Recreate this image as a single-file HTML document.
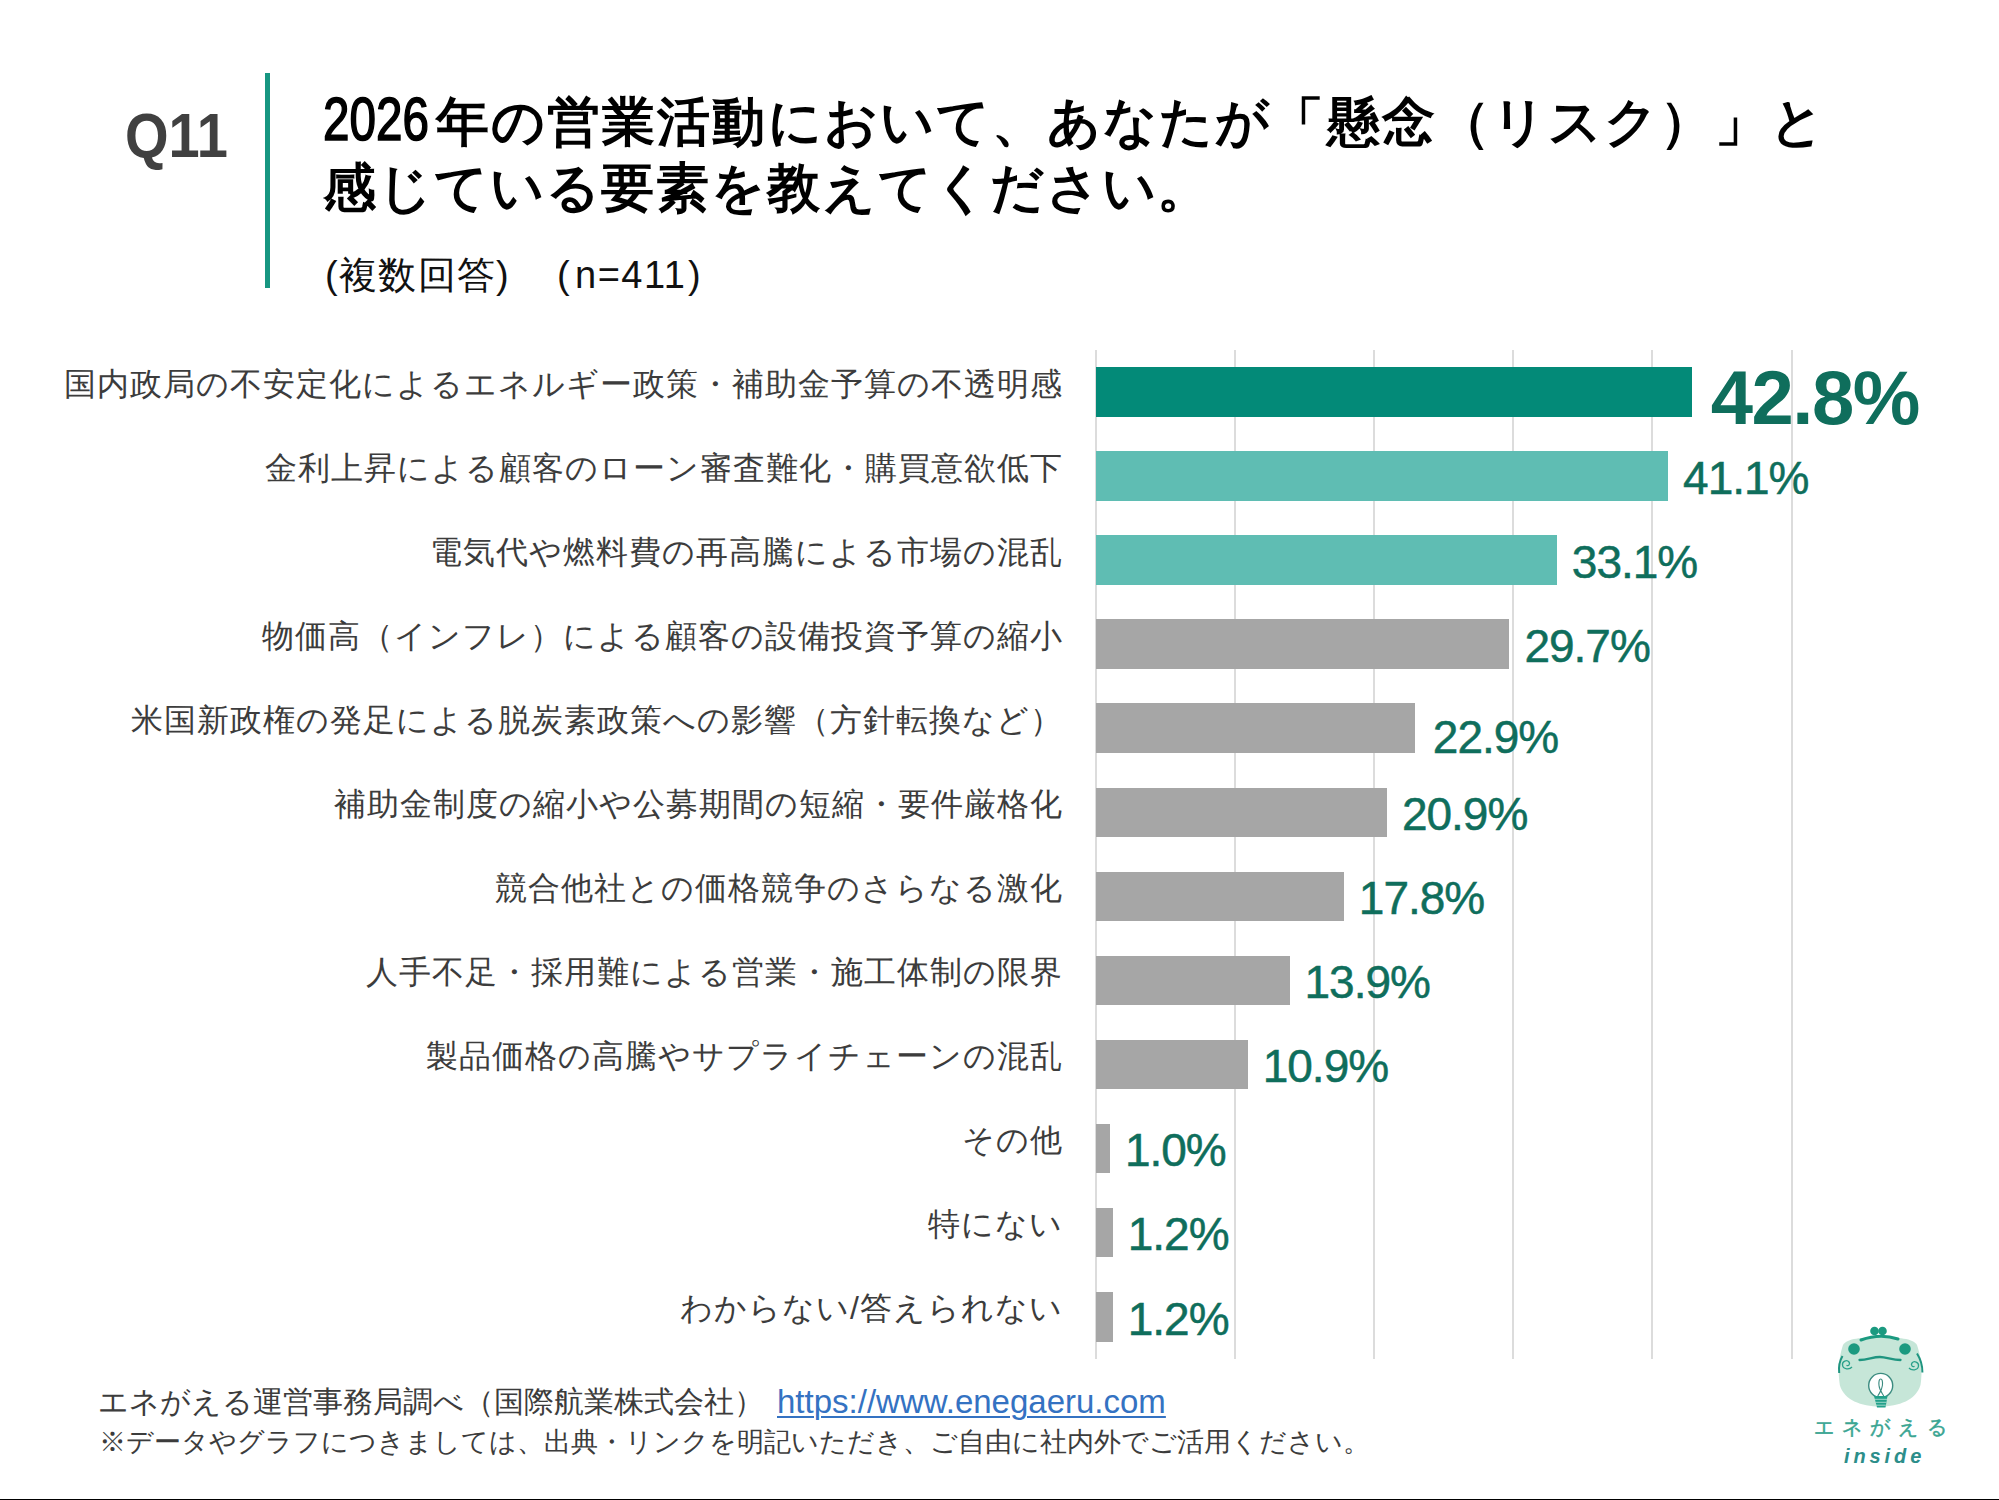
<!DOCTYPE html>
<html><head><meta charset="utf-8"><style>
html,body{margin:0;padding:0;background:#fff;}
body{width:1999px;height:1500px;position:relative;overflow:hidden;font-family:"Liberation Sans",sans-serif;}
.a{position:absolute;white-space:nowrap;line-height:1;}
.g{position:absolute;top:350px;height:1009px;width:2px;background:#dcdcdc;}
.bar{position:absolute;left:1096px;height:49.5px;}
.lab{position:absolute;right:936px;font-size:32px;letter-spacing:1.0px;line-height:50px;color:#3c3c3c;white-space:nowrap;}
.pct{position:absolute;font-size:46px;line-height:56px;color:#0f6e5c;white-space:nowrap;letter-spacing:-1px;-webkit-text-stroke:0.5px #0f6e5c;}
.pct.big{font-size:76px;line-height:76px;font-weight:bold;letter-spacing:-1.5px;-webkit-text-stroke:0;}
#q{left:125px;top:104px;font-size:63px;font-weight:bold;color:#404040;transform:scaleX(0.89);transform-origin:0 0;}
#vline{position:absolute;left:265px;top:73px;width:5px;height:215px;background:#179681;}
.t{font-size:53px;font-weight:bold;color:#000;letter-spacing:2.5px;}
#t1{left:323px;top:89px;letter-spacing:2.1px}
#t2{left:323px;top:161px;letter-spacing:1.9px}
.dg{display:inline-block;font-size:61px;letter-spacing:0;font-weight:normal;-webkit-text-stroke:1.6px #000;transform:scaleX(0.78);transform-origin:0 0;width:113px;vertical-align:baseline;}
.sb{font-size:38px;color:#111;}
#f1{left:98px;top:1387px;font-size:30px;color:#3c3c3c;}
#f2{left:99px;top:1428px;font-size:27.3px;color:#3c3c3c;}
#link{position:absolute;left:777px;top:1385px;color:#3472c2;text-decoration:underline;text-decoration-thickness:1.6px;text-underline-offset:3px;font-size:33px;}
#bline{position:absolute;left:0;top:1499px;width:1999px;height:1px;background:#000;}
</style></head><body>
<div id="q" class="a">Q11</div>
<div id="vline"></div>
<div id="t1" class="a t"><span class="dg">2026</span>年の営業活動において、あなたが「懸念（リスク）」と</div>
<div id="t2" class="a t">感じている要素を教えてください。</div>
<div class="a sb" style="left:325px;top:256px">(</div>
<div class="a sb" style="left:339px;top:256px;letter-spacing:1.3px">複数回答</div>
<div class="a sb" style="left:496px;top:256px">)</div>
<div class="a sb" style="left:557px;top:256px">(</div>
<div class="a sb" style="left:575px;top:256px;letter-spacing:1.5px">n=411</div>
<div class="a sb" style="left:688px;top:256px">)</div>
<div class="g" style="left:1094.5px"></div>
<div class="g" style="left:1233.7px"></div>
<div class="g" style="left:1372.9px"></div>
<div class="g" style="left:1512.1px"></div>
<div class="g" style="left:1651.3px"></div>
<div class="g" style="left:1790.5px"></div>
<div class="lab" style="top:359.0px">国内政局の不安定化によるエネルギー政策・補助金予算の不透明感</div>
<div class="bar" style="top:367.0px;width:595.8px;background:#038a78"></div>
<div class="pct big" style="top:360.0px;left:1710.8px">42.8%</div>
<div class="lab" style="top:443.0px">金利上昇による顧客のローン審査難化・購買意欲低下</div>
<div class="bar" style="top:451.1px;width:572.1px;background:#5fbdb3"></div>
<div class="pct" style="top:449.6px;left:1683.1px">41.1%</div>
<div class="lab" style="top:526.9px">電気代や燃料費の再高騰による市場の混乱</div>
<div class="bar" style="top:535.2px;width:460.8px;background:#5fbdb3"></div>
<div class="pct" style="top:533.7px;left:1571.8px">33.1%</div>
<div class="lab" style="top:610.9px">物価高（インフレ）による顧客の設備投資予算の縮小</div>
<div class="bar" style="top:619.3px;width:413.4px;background:#a6a6a6"></div>
<div class="pct" style="top:617.8px;left:1524.4px">29.7%</div>
<div class="lab" style="top:694.8px">米国新政権の発足による脱炭素政策への影響（方針転換など）</div>
<div class="bar" style="top:703.4px;width:318.8px;background:#a6a6a6"></div>
<div class="pct" style="top:708.9px;left:1432.8px">22.9%</div>
<div class="lab" style="top:778.8px">補助金制度の縮小や公募期間の短縮・要件厳格化</div>
<div class="bar" style="top:787.5px;width:290.9px;background:#a6a6a6"></div>
<div class="pct" style="top:786.0px;left:1401.9px">20.9%</div>
<div class="lab" style="top:862.7px">競合他社との価格競争のさらなる激化</div>
<div class="bar" style="top:871.5px;width:247.8px;background:#a6a6a6"></div>
<div class="pct" style="top:870.0px;left:1358.8px">17.8%</div>
<div class="lab" style="top:946.7px">人手不足・採用難による営業・施工体制の限界</div>
<div class="bar" style="top:955.6px;width:193.5px;background:#a6a6a6"></div>
<div class="pct" style="top:954.1px;left:1304.5px">13.9%</div>
<div class="lab" style="top:1030.6px">製品価格の高騰やサプライチェーンの混乱</div>
<div class="bar" style="top:1039.7px;width:151.7px;background:#a6a6a6"></div>
<div class="pct" style="top:1038.2px;left:1262.7px">10.9%</div>
<div class="lab" style="top:1114.6px">その他</div>
<div class="bar" style="top:1123.8px;width:13.9px;background:#a6a6a6"></div>
<div class="pct" style="top:1122.3px;left:1124.9px">1.0%</div>
<div class="lab" style="top:1198.5px">特にない</div>
<div class="bar" style="top:1207.9px;width:16.7px;background:#a6a6a6"></div>
<div class="pct" style="top:1206.4px;left:1127.7px">1.2%</div>
<div class="lab" style="top:1282.5px">わからない/答えられない</div>
<div class="bar" style="top:1292.0px;width:16.7px;background:#a6a6a6"></div>
<div class="pct" style="top:1290.5px;left:1127.7px">1.2%</div>
<div id="f1" class="a">エネがえる運営事務局調べ（国際航業株式会社）</div>
<div id="link" class="a">https://www.enegaeru.com</div>
<div id="f2" class="a">※データやグラフにつきましては、出典・リンクを明記いただき、ご自由に社内外でご活用ください。</div>
<svg id="logo" style="position:absolute;left:1830px;top:1320px" width="100" height="90" viewBox="0 0 100 90">
<path d="M13,25 C17,18 32,17.4 50,17.4 C68,17.4 83,18 87,25 C91.5,38 92.5,52 90.5,65 C86,80 69,86.5 50,86.5 C31,86.5 14,80 9.8,65 C7.8,52 8.5,38 13,25 Z" fill="#c6e6d8"/>
<path d="M31,20 Q50,13 68,19" fill="none" stroke="#1b9a80" stroke-width="3" stroke-linecap="round"/>
<circle cx="44.5" cy="11" r="4.3" fill="#1b9a80"/><circle cx="52.5" cy="11" r="4.3" fill="#1b9a80"/>
<circle cx="24" cy="29" r="5.8" fill="#1b9a80"/><circle cx="75" cy="29" r="5.8" fill="#1b9a80"/>
<path d="M29.5,40 C38,39.5 44,36.8 50,37 C56,37.2 62,39.5 70.5,40" fill="none" stroke="#1f9580" stroke-width="2.3" stroke-linecap="round"/>
<path d="M12.5,36 C9.5,41 8.5,47 9.2,53" fill="none" stroke="#1f9580" stroke-width="2"/>
<path d="M87,33.5 C90.5,39 92.5,46 92.4,52.5" fill="none" stroke="#1f9580" stroke-width="2"/>
<path d="M22,47 C19.5,50 13,49.5 12.5,45 C12,41 17,39.5 19,42 C20.5,44 18.5,46.5 16.5,45.2" fill="none" stroke="#2aa08a" stroke-width="1.3"/>
<path d="M79,48 C81.5,51 88,50.5 88.5,46 C89,42 84,40.5 82,43 C80.5,45 82.5,47.5 84.5,46.2" fill="none" stroke="#2aa08a" stroke-width="1.3"/>
<circle cx="50.7" cy="65.4" r="12" fill="#fff" stroke="#3b8b80" stroke-width="1.4"/>
<path d="M47.8,76 C49.5,73 52,70 52.4,65.5 C52.8,61.5 52.2,59 50.7,59 C49.2,59 48.6,61.5 49,65.5 C49.4,70 52,73 53.8,76" fill="none" stroke="#3b8b80" stroke-width="1.1"/>
<path d="M44,76 L57.5,76 L55.5,87.5 L47,87.5 Z" fill="#22a08a"/>
<path d="M44.5,79.3 H57 M45.2,82.3 H56.4 M46,85.2 H55.8" stroke="#bfe6da" stroke-width="0.8"/>
</svg>
<div class="a" style="left:1813.5px;top:1417px;font-size:20px;letter-spacing:8.3px;color:#3aa592;-webkit-text-stroke:0.5px #3aa592">エネがえる</div>
<div class="a" style="left:1844px;top:1446px;font-size:20px;font-weight:bold;font-style:italic;letter-spacing:3.9px;color:#2c8e8a">inside</div>
<div id="bline"></div>
</body></html>
